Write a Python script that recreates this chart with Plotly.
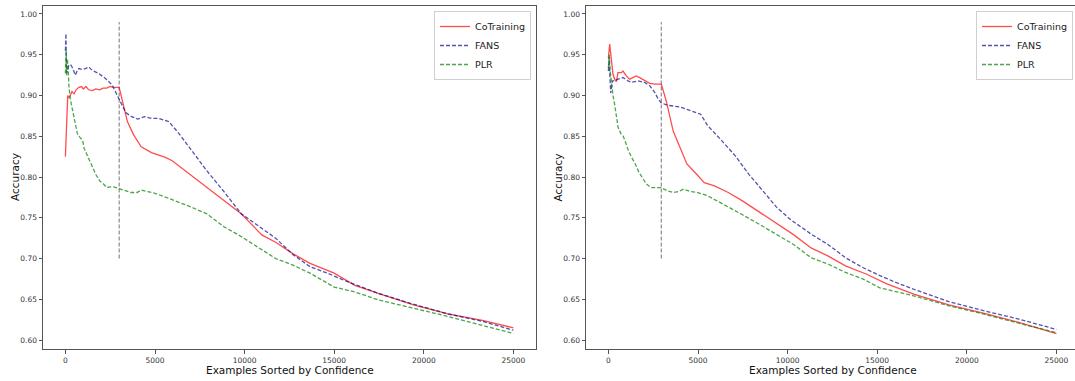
import plotly.graph_objects as go

# ---------------- data ----------------
# Left panel
L_CO_X = [0, 60, 130, 200, 280, 370, 480, 600, 750, 900, 1000, 1150, 1300, 1500, 1700, 1900, 2100, 2300, 2500, 2700, 3000,
          3200, 3460, 3800, 4230, 4800, 5580, 5960, 6920, 7880, 8850, 9810, 10960, 11730, 12690, 13650, 15000, 16150,
          17500, 19420, 21350, 23270, 25000]
L_CO_Y = [0.825, 0.860, 0.900, 0.897, 0.901, 0.905, 0.902, 0.907, 0.910, 0.911, 0.908, 0.911, 0.907, 0.906, 0.908, 0.907,
          0.909, 0.909, 0.911, 0.910, 0.910,
          0.890, 0.868, 0.852, 0.837, 0.830, 0.824, 0.820, 0.804, 0.788, 0.772, 0.755, 0.729, 0.720, 0.706, 0.694, 0.682,
          0.667, 0.657, 0.643, 0.632, 0.624, 0.615]

L_FA_X = [0, 30, 60, 90, 186, 280, 372, 460, 558, 650, 744, 930, 1116, 1302, 1488, 1860, 2232, 2604, 2883, 3069, 3370,
          3700, 4040, 4420, 4800, 5190, 5770, 6350, 7120, 7880, 8850, 9810, 10770, 11730, 12690, 13650, 14620, 15580,
          16540, 17500, 19420, 21350, 23270, 25000]
L_FA_Y = [0.955, 0.976, 0.930, 0.928, 0.937, 0.938, 0.935, 0.930, 0.925, 0.930, 0.933, 0.932, 0.933, 0.935, 0.931,
          0.927, 0.921, 0.913, 0.901, 0.893, 0.879,
          0.874, 0.871, 0.874, 0.872, 0.872, 0.868, 0.853, 0.831, 0.808, 0.782, 0.755, 0.740, 0.725, 0.705, 0.690, 0.682,
          0.673, 0.665, 0.657, 0.644, 0.632, 0.623, 0.612]

L_PL_X = [0, 40, 70, 110, 150, 200, 280, 380, 480, 580, 670, 800, 960, 1050, 1150, 1300, 1440, 1700, 1920, 2100, 2310,
          2500, 2690, 3000, 3300, 3650, 4000, 4230, 4600, 5000, 5500, 5960, 6500, 6920, 7880, 8850, 9810, 10770, 11730,
          12690, 13650, 15000, 16150, 17500, 19420, 21350, 23270, 25000]
L_PL_Y = [0.927, 0.956, 0.925, 0.945, 0.935, 0.910, 0.895, 0.885, 0.876, 0.862, 0.853, 0.849, 0.845, 0.835, 0.830, 0.824,
          0.817, 0.803, 0.795, 0.792, 0.787,
          0.788, 0.788, 0.786, 0.784, 0.781, 0.781, 0.784, 0.782, 0.780, 0.776, 0.772, 0.768, 0.764, 0.755, 0.739, 0.727,
          0.714, 0.700, 0.692, 0.682, 0.665, 0.659, 0.649, 0.639, 0.629, 0.618, 0.608]

# Right panel
R_CO_X = [0, 40, 72, 110, 162, 257, 350, 443, 536, 722, 815, 1000, 1188, 1373, 1557, 1745, 2025, 2304, 2583, 2950, 3140,
          3230, 3620, 4000, 4380, 4770, 5350, 5920, 6690, 7460, 8420, 9380, 10350, 11310, 12270, 13230, 14380, 15540,
          17080, 19000, 20920, 22850, 25000]
R_CO_Y = [0.946, 0.955, 0.963, 0.955, 0.943, 0.926, 0.920, 0.917, 0.928, 0.928, 0.930, 0.924, 0.920, 0.922, 0.924,
          0.922, 0.918, 0.915, 0.914, 0.914, 0.900,
          0.893, 0.856, 0.836, 0.816, 0.807, 0.793, 0.789, 0.781, 0.771, 0.757, 0.744, 0.729, 0.713, 0.703, 0.691, 0.681,
          0.669, 0.656, 0.643, 0.633, 0.622, 0.608]

R_FA_X = [0, 40, 80, 130, 220, 350, 536, 815, 1095, 1280, 1650, 2025, 2304, 2583, 2770, 2950, 3300, 3620, 4000, 4380,
          4770, 5150, 5540, 5900, 6310, 7080, 7850, 8620, 9380, 10150, 11310, 12270, 13230, 14190, 15150, 16120, 17080,
          19000, 20920, 22850, 25000]
R_FA_Y = [0.930, 0.947, 0.925, 0.903, 0.918, 0.918, 0.920, 0.922, 0.918, 0.916, 0.918, 0.916, 0.912, 0.904, 0.896,
          0.891, 0.888, 0.887, 0.886, 0.883,
          0.880, 0.877, 0.863, 0.855, 0.845, 0.826, 0.803, 0.783, 0.763, 0.748, 0.730, 0.717, 0.701, 0.689, 0.679,
          0.670, 0.662, 0.647, 0.636, 0.626, 0.613]

R_PL_X = [0, 50, 100, 150, 257, 350, 450, 540, 700, 830, 1000, 1120, 1300, 1500, 1700, 1880, 2100, 2370, 2700, 2940,
          3300, 3620, 3900, 4190, 4600, 4960, 5540, 6500, 7460, 8420, 9380, 10350, 11310, 12270, 13230, 14190, 15150,
          17080, 19000, 20920, 22850, 25000]
R_PL_Y = [0.934, 0.950, 0.930, 0.918, 0.900, 0.889, 0.872, 0.861, 0.853, 0.850, 0.840, 0.832, 0.824, 0.816, 0.806,
          0.799, 0.792, 0.787, 0.787, 0.787,
          0.783, 0.781, 0.782, 0.785, 0.782, 0.781, 0.777, 0.766, 0.754, 0.742, 0.730, 0.717, 0.701, 0.693, 0.683,
          0.675, 0.664, 0.654, 0.642, 0.632, 0.621, 0.609]

SERIES_NAMES = ["CoTraining", "FANS", "PLR"]
VLINE_X = [3000, 2950]          # cut-off marker per panel
VLINE_Y = [0.70, 0.99]
X_TICKS = [0, 5000, 10000, 15000, 20000, 25000]
Y_TICKS = [0.60, 0.65, 0.70, 0.75, 0.80, 0.85, 0.90, 0.95, 1.00]
X_TITLE = "Examples Sorted by Confidence"
Y_TITLE = "Accuracy"

# ---------------- styling ----------------
W, H = 1075, 381
FONT = "DejaVu Sans"
COLORS = ["rgba(255,0,0,0.7)", "rgba(0,0,139,0.68)", "rgba(0,128,0,0.7)"]
DASHES = ["solid", "4px,2px", "4px,2px"]


def px_x(p):
    return p / W


def px_y(p):
    return (H - p) / H


fig = go.Figure()

panels = [
    ((L_CO_X, L_CO_Y), (L_FA_X, L_FA_Y), (L_PL_X, L_PL_Y)),
    ((R_CO_X, R_CO_Y), (R_FA_X, R_FA_Y), (R_PL_X, R_PL_Y)),
]

for pi, series in enumerate(panels):
    xa = "x" if pi == 0 else "x2"
    ya = "y" if pi == 0 else "y2"
    lg = "legend" if pi == 0 else "legend2"
    # vertical cut-off line
    fig.add_trace(go.Scatter(x=[VLINE_X[pi], VLINE_X[pi]], y=VLINE_Y, mode="lines",
                             line=dict(color="rgba(90,90,90,0.85)", width=1, dash="4px,2px"),
                             showlegend=False, hoverinfo="skip", xaxis=xa, yaxis=ya))
    for si, (xs, ys) in enumerate(series):
        fig.add_trace(go.Scatter(x=xs, y=ys, mode="lines", name=SERIES_NAMES[si],
                                 line=dict(color=COLORS[si], width=1.3, dash=DASHES[si]),
                                 xaxis=xa, yaxis=ya, legend=lg))

axis_common = dict(showgrid=False, zeroline=False, showline=True, linecolor="#555", linewidth=1,
                   ticks="outside", ticklen=3.5, tickwidth=0.8, tickcolor="#555",
                   tickfont=dict(family=FONT, size=7.5, color="#333"), automargin=False)

YR = [0.589, 1.0098]
YDOM = [px_y(349), px_y(6)]

fig.update_layout(
    width=W, height=H,
    margin=dict(l=0, r=0, t=0, b=0),
    paper_bgcolor="white", plot_bgcolor="white",
    xaxis=dict(domain=[px_x(43), px_x(536)], range=[-1250, 26261], tickvals=X_TICKS,
               ticktext=[str(v) for v in X_TICKS], mirror=True, anchor="y", **axis_common),
    yaxis=dict(domain=YDOM, range=YR, tickvals=Y_TICKS, ticktext=[f"{v:.2f}" for v in Y_TICKS],
               mirror=True, anchor="x", **axis_common),
    xaxis2=dict(domain=[px_x(586), 1.0], range=[-1250, 26038], tickvals=X_TICKS,
                ticktext=[str(v) for v in X_TICKS], mirror=True, anchor="y2", **axis_common),
    yaxis2=dict(domain=YDOM, range=YR, tickvals=Y_TICKS, ticktext=[f"{v:.2f}" for v in Y_TICKS],
                mirror=False, anchor="x2", **axis_common),
    legend=dict(x=px_x(531), y=px_y(11), xanchor="right", yanchor="top",
                bgcolor="white", bordercolor="#d0d0d0", borderwidth=1,
                font=dict(family=FONT, size=9.5, color="#222"), itemwidth=30, tracegroupgap=0),
    legend2=dict(x=px_x(1073), y=px_y(11), xanchor="right", yanchor="top",
                 bgcolor="white", bordercolor="#d0d0d0", borderwidth=1,
                 font=dict(family=FONT, size=9.5, color="#222"), itemwidth=30, tracegroupgap=0),
    showlegend=True,
)

title_font = dict(family=FONT, size=10.5, color="#111")
annots = [
    dict(text=X_TITLE, x=px_x(289.5), y=px_y(370)),
    dict(text=X_TITLE, x=px_x(832.5), y=px_y(369.5)),
    dict(text=Y_TITLE, x=px_x(14.5), y=px_y(177.5), textangle=-90),
    dict(text=Y_TITLE, x=px_x(557), y=px_y(177.5), textangle=-90),
]
for a in annots:
    fig.add_annotation(xref="paper", yref="paper", showarrow=False, xanchor="center", yanchor="middle",
                       font=title_font, **a)

fig.write_html("out.html",
               config={"displayModeBar": False},
               post_script="document.body.style.margin='0';document.body.style.padding='0';"
                           "document.documentElement.style.margin='0';document.body.style.overflow='hidden';")
